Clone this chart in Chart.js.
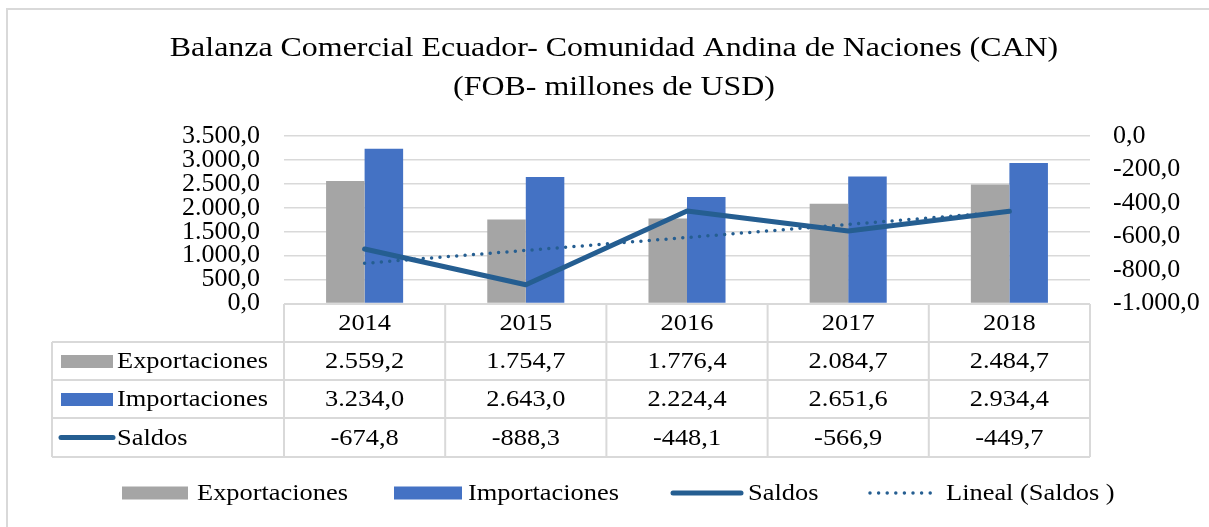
<!DOCTYPE html>
<html>
<head>
<meta charset="utf-8">
<script src="https://cdn.jsdelivr.net/npm/chart.js@4"></script>
<style>
  html, body { margin: 0; padding: 0; background: #fff; }
  #wrap { width: 1209px; height: 527px; }
</style>
</head>
<body>
<div id="wrap"><canvas id="balanza" width="1209" height="527"></canvas></div>
<script>
// Datos (millones de USD, FOB)
const anios = ["2014", "2015", "2016", "2017", "2018"];
const exportaciones = [2559.2, 1754.7, 1776.4, 2084.7, 2484.7];
const importaciones = [3234.0, 2643.0, 2224.4, 2651.6, 2934.4];
const saldos = [-674.8, -888.3, -448.1, -566.9, -449.7];
// Linea de tendencia
const lineal = [-760, -683, -606, -528, -451];

const ticksIzq = { min: 0, max: 3500, paso: 500 };
const ticksDer = { min: -1000, max: 0, paso: 200 };

const GRIS = "#A5A5A5";
const AZUL = "#4472C4";
const AZUL_OSC = "#255E91";
const FUENTE = "Liberation Serif";

// formato 3.500,0
function fmt(v) {
  const neg = v < 0;
  let [ent, dec] = Math.abs(v).toFixed(1).split(".");
  ent = ent.replace(/\B(?=(\d{3})+(?!\d))/g, ".");
  return (neg ? "-" : "") + ent + "," + dec;
}

// texto un poco ensanchado, como en el original
function texto(ctx, str, x, y, align, size, sx) {
  ctx.save();
  ctx.translate(x, y);
  ctx.scale(sx, 1);
  ctx.font = size + "px '" + FUENTE + "'";
  ctx.textAlign = align;
  ctx.textBaseline = "middle";
  ctx.fillStyle = "#000";
  ctx.fillText(str, 0, 0);
  ctx.restore();
}

// Titulo, tabla de datos y leyenda
const tablaPlugin = {
  id: "tabla",
  afterDraw(chart) {
    const ctx = chart.ctx;
    const area = chart.chartArea;
    const n = anios.length;
    const colW = (area.right - area.left) / n;
    const izq = 52;
    const filas = [304, 342, 380, 418, 457];

    ctx.save();
    // marco
    ctx.strokeStyle = "#D9D9D9";
    ctx.lineWidth = 2;
    ctx.beginPath();
    ctx.moveTo(7, 530);
    ctx.lineTo(7, 9);
    ctx.lineTo(1212, 9);
    ctx.stroke();

    // titulo
    texto(ctx, "Balanza Comercial Ecuador- Comunidad Andina de Naciones (CAN)", 614, 49, "center", 28, 1.14);
    texto(ctx, "(FOB- millones de USD)", 614, 88, "center", 28, 1.14);

    // lineas de la tabla
    ctx.strokeStyle = "#D9D9D9";
    ctx.lineWidth = 2;
    ctx.beginPath();
    ctx.moveTo(area.left, filas[0]);
    ctx.lineTo(area.right, filas[0]);
    for (let r = 1; r < filas.length; r++) {
      ctx.moveTo(izq, filas[r]);
      ctx.lineTo(area.right, filas[r]);
    }
    ctx.moveTo(izq, filas[1]);
    ctx.lineTo(izq, filas[4]);
    for (let c = 0; c <= n; c++) {
      const x = area.left + c * colW;
      ctx.moveTo(x, filas[0]);
      ctx.lineTo(x, filas[4]);
    }
    ctx.stroke();

    const medio = (r) => (filas[r] + filas[r + 1]) / 2 + 1;
    anios.forEach((a, i) => {
      const cx = area.left + (i + 0.5) * colW;
      texto(ctx, a, cx, medio(0), "center", 24, 1.1);
      texto(ctx, fmt(exportaciones[i]), cx, medio(1), "center", 24, 1.1);
      texto(ctx, fmt(importaciones[i]), cx, medio(2), "center", 24, 1.1);
      texto(ctx, fmt(saldos[i]), cx, medio(3), "center", 24, 1.1);
    });

    // claves de la tabla
    ctx.fillStyle = GRIS;
    ctx.fillRect(61, medio(1) - 7, 52, 13);
    ctx.fillStyle = AZUL;
    ctx.fillRect(61, medio(2) - 7, 52, 13);
    ctx.strokeStyle = AZUL_OSC;
    ctx.lineWidth = 5;
    ctx.lineCap = "round";
    ctx.beginPath();
    ctx.moveTo(61, medio(3) - 1);
    ctx.lineTo(113, medio(3) - 1);
    ctx.stroke();
    texto(ctx, "Exportaciones", 117, medio(1), "left", 24, 1.1);
    texto(ctx, "Importaciones", 117, medio(2), "left", 24, 1.1);
    texto(ctx, "Saldos", 117, medio(3), "left", 24, 1.1);

    // leyenda inferior
    const ly = 493;
    ctx.fillStyle = GRIS;
    ctx.fillRect(122, ly - 6.5, 66, 13);
    ctx.fillStyle = AZUL;
    ctx.fillRect(394, ly - 6.5, 68, 13);
    ctx.beginPath();
    ctx.moveTo(673, ly);
    ctx.lineTo(741, ly);
    ctx.stroke();
    ctx.lineWidth = 3.5;
    ctx.setLineDash([0, 8.6]);
    ctx.beginPath();
    ctx.moveTo(870, ly);
    ctx.lineTo(938, ly);
    ctx.stroke();
    ctx.setLineDash([]);
    texto(ctx, "Exportaciones", 197, ly + 1, "left", 24, 1.1);
    texto(ctx, "Importaciones", 468, ly + 1, "left", 24, 1.1);
    texto(ctx, "Saldos", 748, ly + 1, "left", 24, 1.1);
    texto(ctx, "Lineal (Saldos )", 946, ly + 1, "left", 24, 1.1);
    ctx.restore();
  },
};

const ctx = document.getElementById("balanza");

new Chart(ctx, {
  type: "bar",
  data: {
    labels: anios,
    datasets: [
      {
        label: "Saldos",
        type: "line",
        data: saldos,
        yAxisID: "y1",
        borderColor: AZUL_OSC,
        borderWidth: 5,
        borderCapStyle: "round",
        borderJoinStyle: "round",
        pointRadius: 0,
        tension: 0,
        order: 0,
      },
      {
        label: "Lineal (Saldos )",
        type: "line",
        data: lineal,
        yAxisID: "y1",
        borderColor: AZUL_OSC,
        borderWidth: 3.5,
        borderDash: [0, 8.4],
        borderCapStyle: "round",
        pointRadius: 0,
        tension: 0,
        order: 1,
      },
      {
        label: "Exportaciones",
        data: exportaciones,
        yAxisID: "y",
        backgroundColor: GRIS,
        barPercentage: 1,
        categoryPercentage: 0.478,
        order: 2,
      },
      {
        label: "Importaciones",
        data: importaciones,
        yAxisID: "y",
        backgroundColor: AZUL,
        barPercentage: 1,
        categoryPercentage: 0.478,
        order: 2,
      },
    ],
  },
  options: {
    responsive: false,
    animation: false,
    layout: { padding: { left: 0, right: 0, top: 136, bottom: 223.5 } },
    plugins: {
      legend: { display: false },
      title: { display: false },
      tooltip: { enabled: false },
    },
    scales: {
      x: { display: false },
      y: {
        position: "left",
        min: ticksIzq.min,
        max: ticksIzq.max,
        afterFit: (s) => { s.width = 284; },
        border: { display: false },
        grid: { color: "#D9D9D9", lineWidth: 1.5, drawTicks: false },
        ticks: {
          stepSize: ticksIzq.paso,
          autoSkip: false,
          padding: 24,
          color: "#000",
          font: { family: FUENTE, size: 26 },
          callback: (v) => fmt(v),
        },
      },
      y1: {
        position: "right",
        min: ticksDer.min,
        max: ticksDer.max,
        afterFit: (s) => { s.width = 119; },
        border: { display: false },
        grid: { display: false, drawTicks: false },
        ticks: {
          stepSize: ticksDer.paso,
          autoSkip: false,
          padding: 23,
          color: "#000",
          font: { family: FUENTE, size: 26 },
          callback: (v) => fmt(v),
        },
      },
    },
  },
  plugins: [tablaPlugin],
});
</script>
</body>
</html>
